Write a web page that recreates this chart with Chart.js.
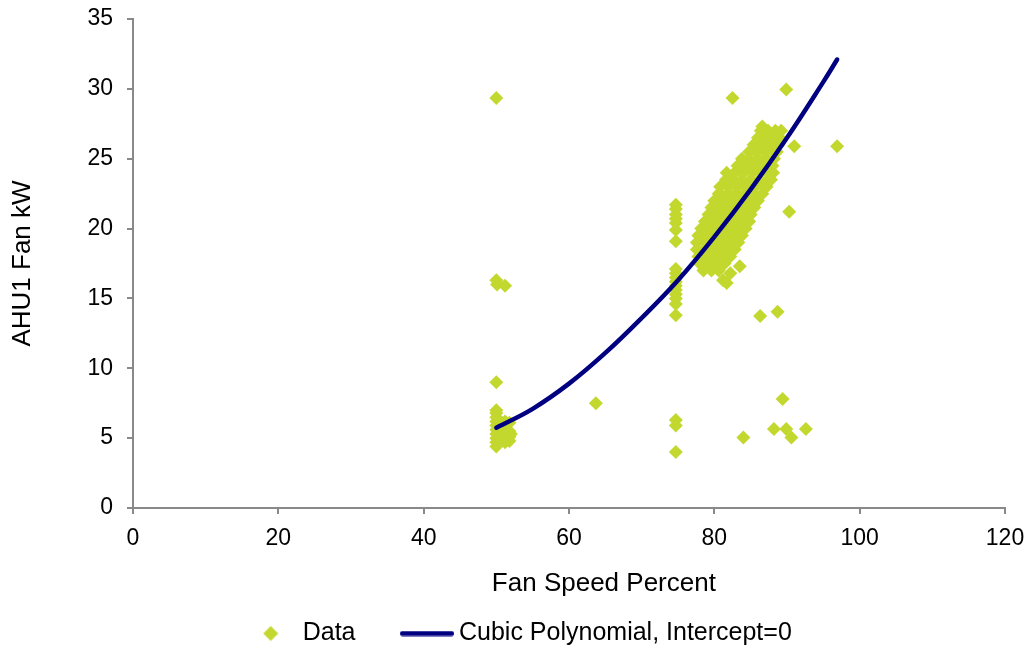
<!DOCTYPE html>
<html>
<head>
<meta charset="utf-8">
<title>AHU1 Fan kW vs Fan Speed</title>
<script src="https://cdn.jsdelivr.net/npm/chart.js@4/dist/chart.umd.min.js"></script>
<style>
  html, body { margin: 0; padding: 0; background: #fff; }
  #wrap { width: 1029px; height: 652px; }
</style>
</head>
<body>
<div id="wrap"><canvas id="chart" width="1029" height="652"></canvas></div>
<script>
// --- Data ---
// outliers, the 50 % and 74.7 % columns, then the main cloud row by row
const dataSpeed = [
  50.0, 82.5, 89.9, 96.9, 91.0, 90.3, 50.0, 50.1, 51.2, 50.0, 63.7,
  74.7, 74.7, 74.7, 84.0, 86.3, 88.7, 89.4, 88.2, 89.9, 90.6, 92.6,
  50.0, 50.0, 50.0, 50.0, 50.0, 50.0, 50.0, 50.0, 50.0, 50.0,
  50.6, 50.6, 50.6, 51.2, 51.2, 51.2, 51.2, 51.2, 51.8, 51.8, 51.8, 51.8, 52.0,
  74.7, 74.7, 74.7, 74.7, 74.7, 74.7, 74.7,
  74.7, 74.7, 74.7, 74.7, 74.7, 74.7, 74.7, 74.7, 74.7, 74.7,
  81.2, 81.7, 82.2, 83.5,
  78.5, 79.6, 80.6,
  78.0, 79.2, 80.4, 81.4,
  77.8, 78.8, 80.0, 81.2, 82.2,
  77.6, 78.6, 79.6, 80.6, 81.8, 82.8,
  77.6, 78.8, 80.0, 81.2, 82.4, 83.3,
  77.8, 78.6, 79.6, 80.6, 81.8, 83.0, 83.8,
  78.2, 79.2, 80.2, 81.4, 82.6, 83.8, 84.3,
  78.7, 79.6, 80.8, 82.0, 83.2, 84.4, 84.8,
  79.2, 80.2, 81.4, 82.6, 83.8, 85.0,
  79.6, 80.8, 82.0, 83.2, 84.4, 85.5,
  80.0, 81.2, 82.4, 83.6, 84.8, 86.0,
  80.6, 81.8, 83.0, 84.2, 85.4, 86.6,
  80.8, 82.0, 83.2, 84.4, 85.6, 86.8, 87.2,
  81.6, 82.6, 83.8, 85.0, 86.2, 87.4, 87.8,
  81.7, 82.8, 84.0, 85.2, 86.4, 87.6, 88.1,
  83.2, 84.4, 85.6, 86.8, 88.0,
  83.8, 84.8, 86.0, 87.2, 88.2,
  84.8, 85.8, 87.0, 88.2, 88.6,
  85.4, 86.4, 87.6, 88.8,
  86.0, 87.0, 88.2, 89.0,
  86.4, 87.4, 88.4, 89.2,
  86.6
];
const dataKw = [
  29.35, 29.35, 29.95, 25.9, 25.9, 21.2, 16.3, 16.0, 15.9, 9.0, 7.5,
  6.3, 5.9, 4.0, 5.05, 13.75, 14.05, 7.8, 5.65, 5.65, 5.05, 5.65,
  7.0, 6.8, 6.5, 6.2, 5.9, 5.6, 5.3, 5.0, 4.7, 4.4,
  6.0, 5.4, 4.8, 6.2, 5.8, 5.4, 5.0, 4.7, 6.1, 5.5, 5.1, 4.8, 5.3,
  21.7, 21.4, 21.0, 20.7, 20.4, 19.9, 19.1,
  17.1, 16.8, 16.5, 16.2, 15.9, 15.6, 15.3, 15.0, 14.6, 13.8,
  16.3, 16.1, 16.8, 17.3,
  17.0, 17.0, 17.0,
  17.5, 17.5, 17.5, 17.5,
  18.0, 18.0, 18.0, 18.0, 18.0,
  18.5, 18.5, 18.5, 18.5, 18.5, 18.5,
  19.0, 19.0, 19.0, 19.0, 19.0, 19.0,
  19.5, 19.5, 19.5, 19.5, 19.5, 19.5, 19.5,
  20.0, 20.0, 20.0, 20.0, 20.0, 20.0, 20.0,
  20.5, 20.5, 20.5, 20.5, 20.5, 20.5, 20.5,
  21.0, 21.0, 21.0, 21.0, 21.0, 21.0,
  21.5, 21.5, 21.5, 21.5, 21.5, 21.5,
  22.0, 22.0, 22.0, 22.0, 22.0, 22.0,
  22.5, 22.5, 22.5, 22.5, 22.5, 22.5,
  23.0, 23.0, 23.0, 23.0, 23.0, 23.0, 23.0,
  23.5, 23.5, 23.5, 23.5, 23.5, 23.5, 23.5,
  24.0, 24.0, 24.0, 24.0, 24.0, 24.0, 24.0,
  24.5, 24.5, 24.5, 24.5, 24.5,
  25.0, 25.0, 25.0, 25.0, 25.0,
  25.5, 25.5, 25.5, 25.5, 25.5,
  26.0, 26.0, 26.0, 26.0,
  26.5, 26.5, 26.5, 26.5,
  27.0, 27.0, 27.0, 27.0,
  27.3
];

// fitted curve, read at a few speeds
const fitSpeed = [50, 55, 60, 65, 70, 75, 80, 85, 90, 95, 96.9];
const fitKw = [5.75, 7.1, 8.9, 11.1, 13.6, 16.3, 19.4, 22.8, 26.5, 30.5, 32.1];

const xTicks = [0, 20, 40, 60, 80, 100, 120];
const yTicks = [0, 5, 10, 15, 20, 25, 30, 35];

const DATA_LABEL = 'Data';
const FIT_LABEL = 'Cubic Polynomial, Intercept=0';
const X_TITLE = 'Fan Speed Percent';
const Y_TITLE = 'AHU1 Fan kW';

const DATA_COLOR = '#C3D82E';
const FIT_COLOR = '#000080';
const AXIS_COLOR = '#898989';
const FONT = '"Liberation Sans", Arial, sans-serif';

// --- Legend swatches ---
function diamondSwatch() {
  const c = document.createElement('canvas');
  c.width = 56; c.height = 18;
  const g = c.getContext('2d');
  g.fillStyle = DATA_COLOR;
  g.beginPath();
  g.moveTo(47, 1.5); g.lineTo(54.5, 9); g.lineTo(47, 16.5); g.lineTo(39.5, 9);
  g.closePath(); g.fill();
  return c;
}
function lineSwatch() {
  const c = document.createElement('canvas');
  c.width = 92; c.height = 6;
  const g = c.getContext('2d');
  g.strokeStyle = FIT_COLOR; g.lineWidth = 5; g.lineCap = 'round';
  g.beginPath(); g.moveTo(40.5, 3); g.lineTo(89.5, 3); g.stroke();
  return c;
}

// --- x axis title, sits right of centre like the original ---
const xTitlePlugin = {
  id: 'xTitle',
  afterDraw(chart) {
    const { ctx, chartArea, scales } = chart;
    ctx.save();
    ctx.font = '26px ' + FONT;
    ctx.fillStyle = '#000';
    ctx.textAlign = 'center';
    ctx.textBaseline = 'middle';
    ctx.fillText(X_TITLE, chartArea.left + chartArea.width * 0.54, scales.x.bottom - 23);
    ctx.restore();
  }
};

const axisGrid = { drawOnChartArea: false, drawTicks: true, tickLength: 6, color: AXIS_COLOR, lineWidth: 2 };
const axisBorder = { display: true, color: AXIS_COLOR, width: 2 };

new Chart(document.getElementById('chart').getContext('2d'), {
  type: 'scatter',
  data: {
    datasets: [
      {
        type: 'line',
        label: FIT_LABEL,
        data: fitSpeed.map((x, i) => ({ x, y: fitKw[i] })),
        borderColor: FIT_COLOR,
        borderWidth: 4.5,
        borderCapStyle: 'round',
        pointRadius: 0,
        fill: false,
        tension: 0.4
      },
      {
        label: DATA_LABEL,
        data: dataSpeed.map((x, i) => ({ x, y: dataKw[i] })),
        pointStyle: 'rectRot',
        pointRadius: 7,
        backgroundColor: DATA_COLOR,
        borderWidth: 0
      }
    ]
  },
  options: {
    responsive: false,
    animation: false,
    events: [],
    layout: { padding: { left: 0, right: 24, top: 19, bottom: -4 } },
    plugins: {
      tooltip: { enabled: false },
      legend: {
        position: 'bottom',
        labels: {
          usePointStyle: true,
          pointStyleWidth: 77,
          padding: 14,
          color: '#000',
          font: { family: FONT, size: 25 },
          generateLabels: () => [
            { text: DATA_LABEL, pointStyle: diamondSwatch(), fillStyle: DATA_COLOR, strokeStyle: DATA_COLOR, lineWidth: 0, hidden: false, datasetIndex: 1 },
            { text: FIT_LABEL, pointStyle: lineSwatch(), fillStyle: FIT_COLOR, strokeStyle: FIT_COLOR, lineWidth: 0, hidden: false, datasetIndex: 0 }
          ]
        }
      }
    },
    scales: {
      x: {
        type: 'linear',
        min: xTicks[0], max: xTicks[xTicks.length - 1],
        afterBuildTicks: s => { s.ticks = xTicks.map(v => ({ value: v })); },
        afterFit: s => { s.height = 99; s.paddingLeft = 0; s.paddingRight = 0; },
        grid: axisGrid,
        border: axisBorder,
        ticks: { color: '#000', padding: 11, font: { family: FONT, size: 23 }, maxRotation: 0 }
      },
      y: {
        type: 'linear',
        min: yTicks[0], max: yTicks[yTicks.length - 1],
        afterBuildTicks: s => { s.ticks = yTicks.map(v => ({ value: v })); },
        afterFit: s => { s.width = 133; s.paddingTop = 0; s.paddingBottom = 0; },
        grid: axisGrid,
        border: axisBorder,
        ticks: { color: '#000', padding: 14, font: { family: FONT, size: 23 } },
        title: { display: true, text: Y_TITLE, color: '#000', font: { family: FONT, size: 26 }, padding: { top: 7, bottom: 0 } }
      }
    }
  },
  plugins: [xTitlePlugin]
});
</script>
</body>
</html>
